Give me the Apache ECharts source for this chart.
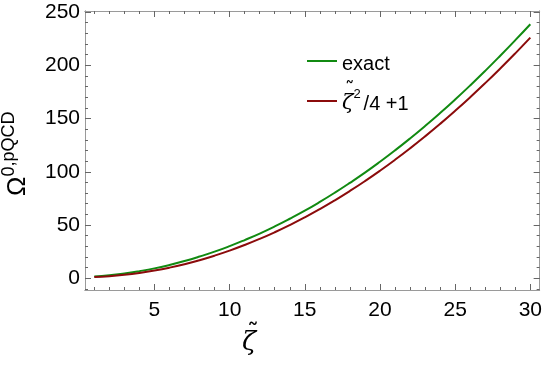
<!DOCTYPE html>
<html>
<head>
<meta charset="utf-8">
<script src="https://cdn.jsdelivr.net/npm/echarts@6/dist/echarts.min.js"></script>
<style>html,body{margin:0;padding:0;background:#fff;}#c{width:545px;height:365px;}</style>
</head>
<body>
<div id="c"></div>
<script>
// data
var zeta = [1,2,3,4,5,6,7,8,9,10,11,12,13,14,15,16,17,18,19,20,21,22,23,24,25,26,27,28,29,30];
var exact = [1.7,2.8,4.5,6.7,9.3,12.5,16.2,20.4,25.0,30.2,35.9,42.0,48.7,55.9,63.5,71.7,80.4,89.6,99.2,109.4,120.1,131.3,143.0,155.2,167.9,181.1,194.8,209.0,223.6,238.6];
var approx = [1.25,2,3.25,5,7.25,10,13.25,17,21.25,26,31.25,37,43.25,50,57.25,65,73.25,82,91.25,101,111.25,122,133.25,145,157.25,170,183.25,197,211.25,226];
var xMajor = [5,10,15,20,25,30];
var xMinor = [1,2,3,4,5,6,7,8,9,10,11,12,13,14,15,16,17,18,19,20,21,22,23,24,25,26,27,28,29,30];
var yMajor = [0,50,100,150,200,250];
var yMinor = [-10,0,10,20,30,40,50,60,70,80,90,100,110,120,130,140,150,160,170,180,190,200,210,220,230,240,250];

var XMIN = 0.38, XMAX = 30.62, YMIN = -11, YMAX = 251;
var FONT = 'Liberation Sans, Arial, sans-serif';
var TICK = '#666';

function xa(pos, vals, len, labels){
  return {type:'value', position:pos, min:XMIN, max:XMAX, offset:0,
    axisLine:{show:true, onZero:false, lineStyle:{color:'#9a9a9a', width:1}}, splitLine:{show:false},
    axisTick:{show:true, inside:true, length:len, customValues:vals, lineStyle:{color:TICK, width:1}},
    axisLabel:{show:labels, customValues:vals, color:'#000', fontSize:21, fontFamily:FONT, margin:10}};
}
function ya(pos, vals, len, labels){
  return {type:'value', position:pos, min:YMIN, max:YMAX, offset:0,
    axisLine:{show:true, onZero:false, lineStyle:{color:'#9a9a9a', width:1}}, splitLine:{show:false},
    axisTick:{show:true, inside:true, length:len, customValues:vals, lineStyle:{color:TICK, width:1}},
    axisLabel:{show:labels, customValues:vals, color:'#000', fontSize:21, fontFamily:FONT, margin:5}};
}

var chart = echarts.init(document.getElementById('c'), null, {renderer:'canvas'});
chart.setOption({
  animation:false,
  grid:{left:85, right:4, top:11, bottom:75, show:false},
  xAxis:[xa('bottom', xMajor, 6, true), xa('bottom', xMinor, 3, false), xa('top', xMajor, 6, false), xa('top', xMinor, 3, false)],
  yAxis:[ya('left', yMajor, 6, true), ya('left', yMinor, 3, false), ya('right', yMajor, 6, false), ya('right', yMinor, 3, false)],
  legend:{
    orient:'vertical', left:302, top:49, itemWidth:30, itemHeight:2, itemGap:14,
    icon:'rect',
    data:['exact','approx'],
    formatter:function(n){ return n==='exact' ? '{t|exact}' : '{z|ζ}{s|2}{t|/4 +1}'; },
    textStyle:{color:'#000', fontFamily:FONT, fontSize:20,
      rich:{
        t:{fontSize:20, fontFamily:FONT, color:'#000', verticalAlign:'bottom', lineHeight:26},
        z:{fontSize:21, fontFamily:'DejaVu Serif, serif', fontStyle:'italic', color:'#000', verticalAlign:'bottom', lineHeight:26},
        s:{fontSize:13, fontFamily:FONT, color:'#000', verticalAlign:'top', lineHeight:26, padding:[0,3,0,0]}
      }}
  },
  series:[
    {name:'exact', type:'line', xAxisIndex:0, yAxisIndex:0, showSymbol:false, smooth:true,
     data:zeta.map(function(z,i){return [z, exact[i]];}), lineStyle:{color:'#118a11', width:2}, itemStyle:{color:'#118a11'}},
    {name:'approx', type:'line', xAxisIndex:0, yAxisIndex:0, showSymbol:false, smooth:true,
     data:zeta.map(function(z,i){return [z, approx[i]];}), lineStyle:{color:'#8b0b0b', width:2}, itemStyle:{color:'#8b0b0b'}}
  ],
  graphic:[
    {type:'text', left:242, top:330, style:{text:'ζ', font:'italic 26px "DejaVu Serif", serif', fill:'#000'}},
    {type:'text', left:247, top:323, style:{text:'˜', font:'24px "DejaVu Sans", sans-serif', fill:'#000'}},
    {type:'text', left:345, top:82, style:{text:'˜', font:'19px "DejaVu Sans", sans-serif', fill:'#000'}},
    {type:'text', x:0, y:196, rotation:Math.PI/2,
     style:{text:'{o|Ω}{s|0,pQCD}', rich:{
        o:{font:'26px "Liberation Sans", Arial, sans-serif', fill:'#000', verticalAlign:'bottom', lineHeight:31},
        s:{font:'18px "Liberation Sans", Arial, sans-serif', fill:'#000', verticalAlign:'top', lineHeight:31}
     }}}
  ]
});
</script>
</body>
</html>
